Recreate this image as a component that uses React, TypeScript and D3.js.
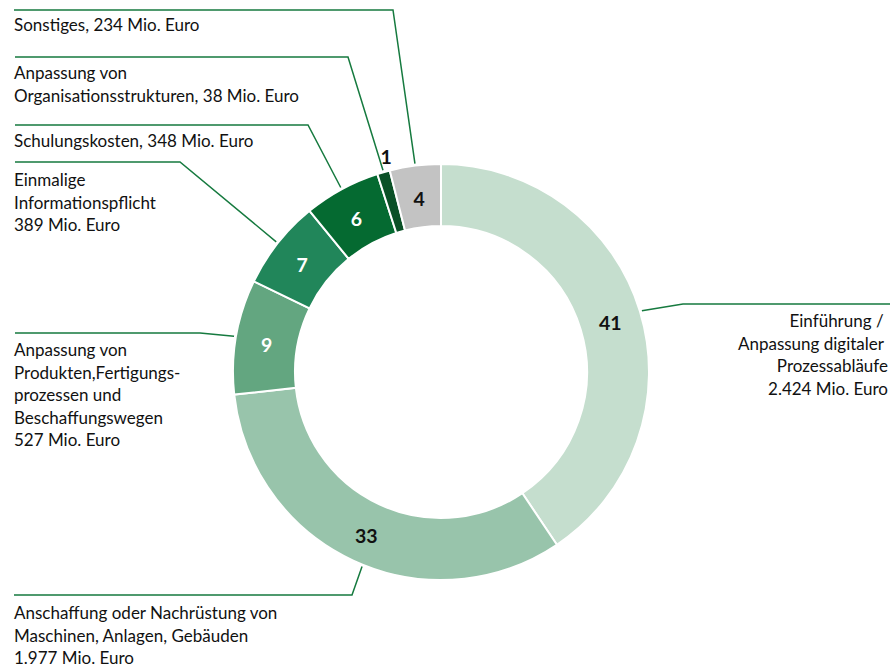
import React from "react";
import * as d3 from "d3";

// Data (clockwise from 12 o'clock)
const categories = [
  "Einführung / Anpassung digitaler Prozessabläufe",
  "Anschaffung oder Nachrüstung von Maschinen, Anlagen, Gebäuden",
  "Anpassung von Produkten, Fertigungsprozessen und Beschaffungswegen",
  "Einmalige Informationspflicht",
  "Schulungskosten",
  "Anpassung von Organisationsstrukturen",
  "Sonstiges",
];
const shares = [41, 33, 9, 7, 6, 1, 4]; // percent labels shown on the ring
const amounts = ["2.424", "1.977", "527", "389", "348", "38", "234"]; // Mio. Euro
const labelLines = [
  ["Einführung / ", "Anpassung digitaler ", "Prozessabläufe", "2.424 Mio. Euro"],
  ["Anschaffung oder Nachrüstung von", "Maschinen, Anlagen, Gebäuden", "1.977 Mio. Euro"],
  ["Anpassung von", "Produkten,Fertigungs-", "prozessen und", "Beschaffungswegen", "527 Mio. Euro"],
  ["Einmalige", "Informationspflicht", "389 Mio. Euro"],
  ["Schulungskosten, 348 Mio. Euro"],
  ["Anpassung von", "Organisationsstrukturen, 38 Mio. Euro"],
  ["Sonstiges, 234 Mio. Euro"],
];
const colors = ["#c5dece", "#98c4ab", "#63a680", "#21865a", "#056a31", "#0b5127", "#c3c3c3"];
const valueTextColors = ["#111", "#111", "#fff", "#fff", "#fff", "#111", "#111"];

// Layout (label boxes and leader elbows)
const layout = [
  { tx: 888, ty: 327, anchor: "end", elbowX: 683, elbowY: 304, lineEnd: 890, outside: false, dAng: 0 },
  { tx: 14, ty: 619, anchor: "start", elbowX: 352, elbowY: 595, lineEnd: 14, outside: false, dAng: -0.05 },
  { tx: 14, ty: 356, anchor: "start", elbowX: 200, elbowY: 333, lineEnd: 15, outside: false, dAng: 0 },
  { tx: 14, ty: 186, anchor: "start", elbowX: 180, elbowY: 162, lineEnd: 15, outside: false, dAng: 0 },
  { tx: 14, ty: 147, anchor: "start", elbowX: 308, elbowY: 125, lineEnd: 15, outside: false, dAng: 0 },
  { tx: 14, ty: 79, anchor: "start", elbowX: 348, elbowY: 57, lineEnd: 15, outside: true, dAng: 0 },
  { tx: 14, ty: 31, anchor: "start", elbowX: 393, elbowY: 10, lineEnd: 14, outside: false, dAng: 0 },
];

const W = 894;
const H = 669;
const cx = 441;
const cy = 372;
const R = 208;
const r = 146;
const lineH = 22.5;

export default function App() {
  const pie = d3.pie<number>().value((d) => d).sort(null);
  const arcs = pie(shares);
  const arc = d3.arc<d3.PieArcDatum<number>>().innerRadius(r).outerRadius(R);
  const outerPt = (a: number, rad: number) => [Math.sin(a) * rad, -Math.cos(a) * rad];

  return (
    <svg
      width={W}
      height={H}
      style={{ position: "absolute", left: 0, top: 0, background: "#fff" }}
      fontFamily="Lato, 'Open Sans', sans-serif"
    >
      <g transform={`translate(${cx},${cy})`}>
        {arcs.map((a, i) => (
          <path key={i} d={arc(a) || ""} fill={colors[i]} stroke="#fff" strokeWidth={2} />
        ))}
      </g>
      {/* leader lines */}
      {arcs.map((a, i) => {
        const mid = (a.startAngle + a.endAngle) / 2 + layout[i].dAng;
        const [px, py] = outerPt(mid, R + 2);
        const L = layout[i];
        const pts = [
          [cx + px, cy + py],
          [L.elbowX, L.elbowY],
          [L.lineEnd, L.elbowY],
        ];
        return (
          <path
            key={"l" + i}
            d={d3.line()(pts as [number, number][]) || ""}
            fill="none"
            stroke="#167a3f"
            strokeWidth={1.5}
          />
        );
      })}
      {/* value labels */}
      {arcs.map((a, i) => {
        const mid = (a.startAngle + a.endAngle) / 2;
        let x: number, y: number;
        if (layout[i].outside) {
          const p = outerPt(mid, R + 16);
          x = cx + p[0] + 7;
          y = cy + p[1];
        } else {
          const c = arc.centroid(a);
          x = cx + c[0];
          y = cy + c[1] + 3;
        }
        return (
          <text
            key={"v" + i}
            x={x}
            y={y}
            dy="0.36em"
            textAnchor="middle"
            fontWeight="bold"
            fontSize={19.5}
            fill={valueTextColors[i]}
          >
            {shares[i]}
          </text>
        );
      })}
      {/* category labels */}
      {labelLines.map((lines, i) => (
        <text
          key={"t" + i}
          x={layout[i].tx}
          y={layout[i].ty}
          textAnchor={layout[i].anchor as any}
          fontSize={17}
          fill="#111"
          style={{ whiteSpace: "pre" }}
        >
          {lines.map((ln, j) => (
            <tspan key={j} x={layout[i].tx} y={layout[i].ty + j * lineH}>
              {ln}
            </tspan>
          ))}
        </text>
      ))}
    </svg>
  );
}
